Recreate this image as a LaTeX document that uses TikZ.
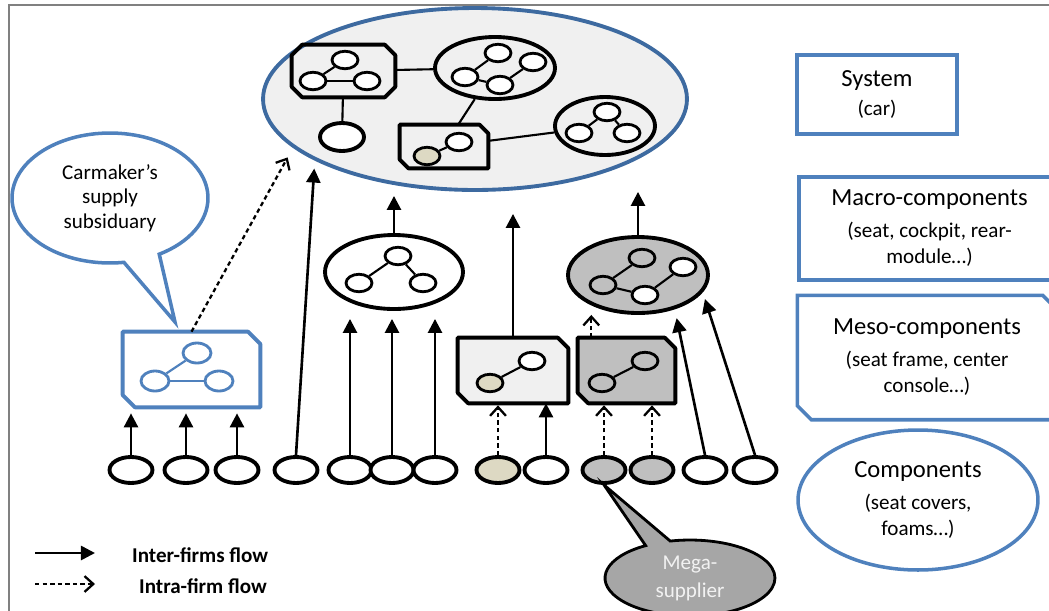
\documentclass[tikz,border=0pt]{standalone}
\usepackage{fontspec}
\setmainfont{Carlito}
\usetikzlibrary{positioning,arrows.meta,shapes.geometric,shapes.callouts}

\definecolor{sysblue}{HTML}{3D6AA0}
\definecolor{boxblue}{HTML}{4F81BD}
\definecolor{lightgrey}{HTML}{F0F0F0}
\definecolor{midgrey}{HTML}{BFBFBF}
\definecolor{darkgrey}{HTML}{A6A6A6}
\definecolor{beige}{HTML}{DDD9C3}
\definecolor{framegrey}{HTML}{808080}
\definecolor{megatext}{HTML}{F2F2F2}

% box with the north east and south west corners cut
\newcommand{\snipbox}[3][]{%
  \draw[#1] (#2.north west) -- ([xshift=-#3]#2.north east) -- ([yshift=-#3]#2.north east)
    -- (#2.south east) -- ([xshift=#3]#2.south west) -- ([yshift=#3]#2.south west) -- cycle;}
% box with all four corners cut
\newcommand{\octbox}[3][]{%
  \draw[#1] ([xshift=#3]#2.north west) -- ([xshift=-#3]#2.north east) -- ([yshift=-#3]#2.north east)
    -- ([yshift=#3]#2.south east) -- ([xshift=-#3]#2.south east) -- ([xshift=#3]#2.south west)
    -- ([yshift=#3]#2.south west) -- ([yshift=-#3]#2.north west) -- cycle;}

\tikzset{
  comp/.style={ellipse, draw, line width=2.2pt, minimum width=0.86cm, minimum height=0.52cm, inner sep=0pt},
  sn/.style={ellipse, draw, line width=1.6pt, fill=white, minimum width=0.52cm, minimum height=0.35cm, inner sep=0pt},
  bsn/.style={sn, draw=boxblue, minimum width=0.56cm, minimum height=0.4cm},
  group/.style={ellipse, draw, line width=2.2pt, inner sep=0pt},
  frame/.style={rectangle, inner sep=0pt},
  edge/.style={line width=2.2pt, line join=round},
  link/.style={line width=1.2pt},
  inter/.style={-{Triangle[length=8pt,width=8pt]}, line width=1.5pt},
  intra/.style={-{Straight Barb[length=5pt,width=9pt]}, line width=1.3pt, dash pattern=on 2.5pt off 1.8pt},
  legend/.style={draw=boxblue, line width=2pt, align=center, inner sep=0pt, font=\fontsize{14}{18}\selectfont},
}

\begin{document}
\begin{tikzpicture}[x=0.02cm, y=-0.02cm]
  \useasboundingbox (0,0) rectangle (1049,610);

  % frame
  \draw[framegrey, line width=1.5pt] (9,615) -- (9,5) -- (1055,5);

  % system
  \node[group, draw=sysblue, fill=lightgrey, minimum width=8.48cm, minimum height=3.64cm] (sys) at (475,99) {};
  \node[frame, minimum width=2.06cm, minimum height=1.04cm] (oct) at (343.5,71) {};
  \octbox[edge]{oct}{6pt}
  \node[sn] (o1) at (345,60) {};
  \node[sn] (o2) at (313,81) {};
  \node[sn] (o3) at (367,81) {};
  \node[sn, line width=2.2pt, minimum width=0.88cm, minimum height=0.56cm] (o4) at (342,137) {};
  \node[group, minimum width=2.4cm, minimum height=1.24cm] (ring) at (495,68) {};
  \node[sn] (r1) at (498,53) {};
  \node[sn] (r2) at (533,62) {};
  \node[sn] (r3) at (465,77) {};
  \node[sn] (r4) at (500,85) {};
  \node[frame, minimum width=1.76cm, minimum height=0.86cm] (duo) at (444,146.5) {};
  \snipbox[edge]{duo}{5pt}
  \node[sn, fill=beige] (s1) at (427,156) {};
  \node[sn] (s2) at (459,142) {};
  \node[group, minimum width=2cm, minimum height=1.16cm] (tri) at (605,126) {};
  \node[sn] (t1) at (607,112) {};
  \node[sn] (t2) at (579,133) {};
  \node[sn] (t3) at (627,133) {};

  \draw[link] (o2) -- (o1);
  \draw[link] (o2) -- (o3);
  \draw[link] (r3) -- (r1);
  \draw[link] (r3) -- (r4);
  \draw[link] (r4) -- (r2);
  \draw[link] (s1) -- (s2);
  \draw[link] (t2) -- (t1);
  \draw[link] (t1) -- (t3);
  \draw[link] (oct) -- (o4);
  \draw[link] (oct) -- (ring);
  \draw[link] (ring) -- (duo);
  \draw[link] (duo) -- (tri);

  % macro-components
  \node[frame, minimum width=2.74cm, minimum height=1.5cm] (sub) at (191.5,369.5) {};
  \snipbox[edge, draw=boxblue, fill=white]{sub}{7pt}
  \node[bsn] (b1) at (197,353) {};
  \node[bsn] (b2) at (155,381) {};
  \node[bsn] (b3) at (219,381) {};
  \draw[link, boxblue] (b2) -- (b1);
  \draw[link, boxblue] (b2) -- (b3);

  \node[group, fill=white, minimum width=2.76cm, minimum height=1.48cm] (mac1) at (394,272) {};
  \node[sn] (m1) at (398,256) {};
  \node[sn] (m2) at (359,283) {};
  \node[sn] (m3) at (423,283) {};
  \draw[link] (m2) -- (m1);
  \draw[link] (m1) -- (m3);

  \node[group, fill=midgrey, minimum width=2.8cm, minimum height=1.52cm] (mac2) at (638,275) {};
  \node[sn, fill=midgrey] (g1) at (642,258) {};
  \node[sn, fill=midgrey] (g2) at (603,285) {};
  \node[sn] (g3) at (645,295) {};
  \node[sn] (g4) at (683,267) {};
  \draw[link] (g2) -- (g1);
  \draw[link] (g2) -- (g3);
  \draw[link] (g3) -- (g4);

  % meso-components
  \node[frame, minimum width=2.2cm, minimum height=1.3cm] (mesoA) at (513,370.5) {};
  \snipbox[edge, fill=lightgrey]{mesoA}{6pt}
  \node[sn, fill=beige] (a1) at (490,383) {};
  \node[sn] (a2) at (532,361) {};
  \draw[link] (a1) -- (a2);
  \node[frame, minimum width=1.94cm, minimum height=1.3cm] (mesoB) at (626.5,370.5) {};
  \snipbox[edge, fill=midgrey]{mesoB}{6pt}
  \node[sn, fill=midgrey] (n1) at (602,383) {};
  \node[sn, fill=midgrey] (n2) at (645,361) {};
  \draw[link] (n1) -- (n2);

  % components
  \foreach \x/\f [count=\i] in {131/white,186/white,237/white,296/white,350/white,392/white,
      435/white,498/beige,546/white,604/midgrey,652/midgrey,705/white,755/white}
    \node[comp, fill=\f] (c\i) at (\x,470) {};

  % flows
  \foreach \i in {1,2,3}
    \draw[inter, shorten >=0.12cm] (c\i.north) -- (c\i.north |- sub.south);
  \draw[intra, shorten >=0.22cm] (sub.north) -- (sys.195);
  \draw[inter, shorten >=0.16cm] (c4.north) -- (sys.201);
  \foreach \i in {5,6,7}
    \draw[inter, shorten >=0.16cm] (c\i.north) -- (c\i.north |- mac1.south);
  \draw[inter, shorten >=0.08cm] (mac1.north) -- (mac1.north |- sys.south);
  \draw[intra, shorten >=0.04cm] (c8.north) -- (c8.north |- mesoA.south);
  \draw[inter] (c9.north) -- (c9.north |- mesoA.south);
  \draw[inter, shorten >=0.44cm] (mesoA.north) -- (mesoA.north |- sys.south);
  \draw[intra, shorten >=0.04cm] (c10.north) -- (c10.north |- mesoB.south);
  \draw[intra, shorten >=0.04cm] (c11.north) -- (c11.north |- mesoB.south);
  \draw[intra] (mesoB.137) -- (mesoB.137 |- mac2.south);
  \draw[inter] (mac2.north) -- (mac2.north |- sys.south);
  \draw[inter, shorten >=0.18cm] (c12.north) -- (mac2.-43);
  \draw[inter, shorten >=0.14cm] (c13.north) -- (mac2.-15);

  % callouts
  \node[ellipse callout, draw=boxblue, line width=2pt, fill=white, minimum width=3.92cm, minimum height=2.6cm,
    callout absolute pointer={(175,322)}, callout pointer arc=22, align=center, inner sep=0pt,
    font=\fontsize{12}{14}\selectfont] (bubble) at (110,198) {Carmaker’s\\supply\\subsiduary};
  \node[ellipse callout, draw, line width=1.6pt, fill=darkgrey, text=megatext, minimum width=3.4cm, minimum height=1.52cm,
    callout absolute pointer={(c10.south)}, callout pointer arc=18, align=center, inner sep=0pt,
    font=\fontsize{12}{16}\selectfont] (mega) at (690,578) {Mega-\\supplier};

  % levels
  \node[legend, minimum width=3.2cm, minimum height=1.58cm] (lsys) at (877,94.5)
    {System\\[-1.5pt]{\fontsize{12}{15}\selectfont (car)}};
  \node[legend, minimum width=5.22cm, minimum height=2.06cm] (lmacro) at (929.5,228.5)
    {Macro-components\\{\fontsize{12}{15}\selectfont (seat, cockpit, rear-}\\[-3pt]{\fontsize{12}{15}\selectfont module…)}};
  \node[legend, draw=none, minimum width=5.12cm, minimum height=2.42cm] (lmeso) at (927,357.5)
    {Meso-components\\{\fontsize{12}{15}\selectfont (seat frame, center}\\[-3pt]{\fontsize{12}{15}\selectfont console…)}};
  \snipbox[draw=boxblue, line width=2pt]{lmeso}{8pt}
  \node[legend, ellipse, minimum width=4.8cm, minimum height=2.8cm] (lcomp) at (918,500)
    {Components\\{\fontsize{12}{15}\selectfont (seat covers,}\\[-3pt]{\fontsize{12}{15}\selectfont foams…)}};

  % key
  \coordinate (k1) at (35,553);
  \coordinate (k2) at (95,553);
  \coordinate (k3) at (35,584);
  \coordinate (k4) at (95,584);
  \draw[inter] (k1) -- (k2);
  \draw[intra] (k3) -- (k4);
  \node[anchor=west, font=\bfseries\fontsize{12}{14}\selectfont] (kinter) at (126,555) {Inter-firms flow};
  \node[anchor=west, font=\bfseries\fontsize{12}{14}\selectfont] (kintra) at (133,586) {Intra-firm flow};
\end{tikzpicture}
\end{document}
